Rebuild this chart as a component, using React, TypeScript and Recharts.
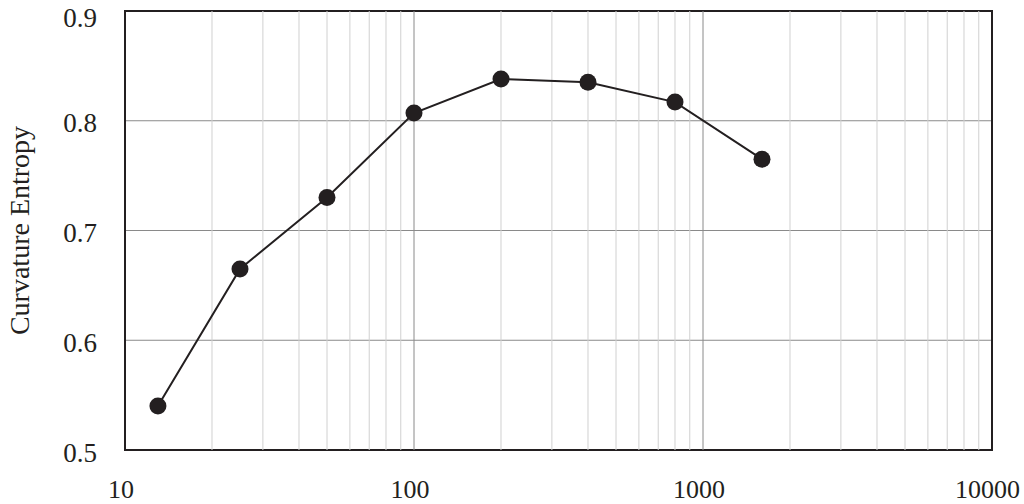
import { LineChart, Line, XAxis, YAxis, CartesianGrid, ReferenceLine, ReferenceArea, Label } from 'recharts';

const sizes = [13, 25, 50, 100, 200, 400, 800, 1600];
const entropy = [0.540, 0.665, 0.730, 0.807, 0.838, 0.835, 0.817, 0.765];
const xTicks = [10, 100, 1000, 10000];
const yTicks = [0.5, 0.6, 0.7, 0.8, 0.9];
const minorX = [20, 30, 40, 50, 60, 70, 80, 90, 200, 300, 400, 500, 600, 700, 800, 900, 2000, 3000, 4000, 5000, 6000, 7000, 8000, 9000];
const majorX = [100, 1000];

const data = sizes.map((s, i) => ({ size: s, value: entropy[i] }));

const font = '"Liberation Serif", "DejaVu Serif", serif';

export default function App() {
  return (
    <div style={{ position: 'absolute', left: 0, top: 0, background: '#fff' }}>
      <LineChart width={1024} height={504} data={data} margin={{ top: 11, right: 32, bottom: 0, left: 0 }}>
        <CartesianGrid vertical={false} stroke="#8a8a8a" strokeWidth={1} />
        {minorX.map((x) => (
          <ReferenceLine key={x} x={x} stroke="#d0d0d0" strokeWidth={1} />
        ))}
        {majorX.map((x) => (
          <ReferenceLine key={x} x={x} stroke="#8a8a8a" strokeWidth={1} />
        ))}
        <XAxis
          dataKey="size"
          type="number"
          scale="log"
          domain={[10, 10000]}
          ticks={xTicks}
          allowDataOverflow
          height={54}
          tickSize={0}
          tickMargin={30}
          axisLine={false}
          tick={{ fontSize: 26, fill: '#231f20', fontFamily: font, dx: -4 }}
        />
        <YAxis
          type="number"
          domain={[0.5, 0.9]}
          ticks={yTicks}
          width={125}
          tickSize={0}
          tickMargin={28}
          axisLine={false}
          tickFormatter={(v: number) => v.toFixed(1)}
          tick={{ fontSize: 27, fill: '#231f20', fontFamily: font, dy: 2 }}
        >
          <Label
            value="Curvature Entropy"
            angle={-90}
            position="insideLeft"
            offset={19}
            style={{ fontSize: 28, fill: '#231f20', fontFamily: font, textAnchor: 'middle' }}
          />
        </YAxis>
        <ReferenceArea x1={10} x2={10000} y1={0.5} y2={0.9} fill="none" stroke="#231f20" strokeWidth={2} />
        <Line
          dataKey="value"
          stroke="#231f20"
          strokeWidth={2}
          dot={{ r: 8.5, fill: '#231f20', stroke: '#231f20', strokeWidth: 0 }}
          isAnimationActive={false}
        />
      </LineChart>
    </div>
  );
}
